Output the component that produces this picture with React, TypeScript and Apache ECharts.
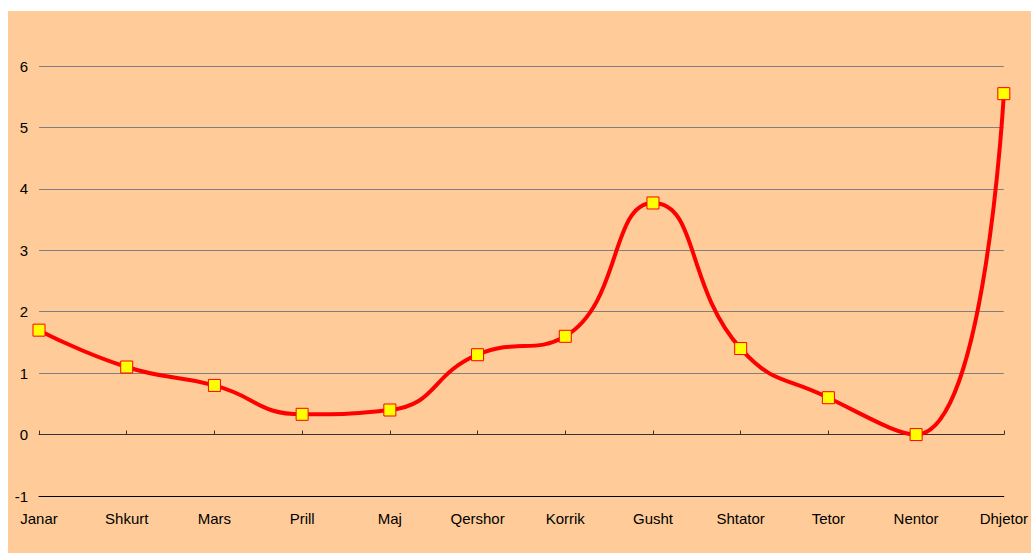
import React, { useEffect, useRef } from "react";
import * as echarts from "echarts";

const months = ["Janar", "Shkurt", "Mars", "Prill", "Maj", "Qershor", "Korrik", "Gusht", "Shtator", "Tetor", "Nentor", "Dhjetor"];
const values = [1.7, 1.1, 0.8, 0.33, 0.4, 1.3, 1.6, 3.77, 1.4, 0.6, 0, 5.55];

export default function App() {
  const ref = useRef<HTMLDivElement>(null);
  useEffect(() => {
    if (!ref.current) return;
    const chart = echarts.init(ref.current, null, { renderer: "svg" });
    chart.setOption({
      animation: false,
      backgroundColor: "#FFCC99",
      textStyle: { fontFamily: "Liberation Sans, Arial, sans-serif" },
      grid: { left: 31, right: 23, top: 55, bottom: 57 },
      xAxis: [
        {
          type: "category",
          data: months,
          boundaryGap: false,
          position: "bottom",
          axisLine: { show: true, onZero: false, lineStyle: { color: "#000", width: 1 } },
          axisTick: { show: false },
          axisLabel: { color: "#000", fontSize: 15, margin: 15 },
          splitLine: { show: false },
        },
        {
          type: "category",
          data: months,
          boundaryGap: false,
          position: "bottom",
          axisLine: { show: true, onZero: true, lineStyle: { color: "#333", width: 1 } },
          axisTick: { show: true, inside: true, length: 4, alignWithLabel: true, lineStyle: { color: "#333" } },
          axisLabel: { show: false },
          splitLine: { show: false },
        },
      ],
      yAxis: {
        type: "value",
        min: -1,
        max: 6,
        interval: 1,
        axisLine: { show: false },
        axisTick: { show: false },
        axisLabel: { color: "#000", fontSize: 15, margin: 11 },
        splitLine: { show: true, lineStyle: { color: "#808080", width: 1 } },
      },
      series: [
        {
          type: "line",
          data: values,
          xAxisIndex: 1,
          smooth: 0.5,
          lineStyle: { color: "#FF0000", width: 4 },
          symbol: "rect",
          symbolSize: 12,
          itemStyle: { color: "#FFFF00", borderColor: "#FF0000", borderWidth: 1 },
          z: 5,
        },
      ],
    });
    return () => chart.dispose();
  }, []);
  return (
    <div
      ref={ref}
      style={{ position: "fixed", left: 8, top: 11, width: 1023, height: 542 }}
    />
  );
}
